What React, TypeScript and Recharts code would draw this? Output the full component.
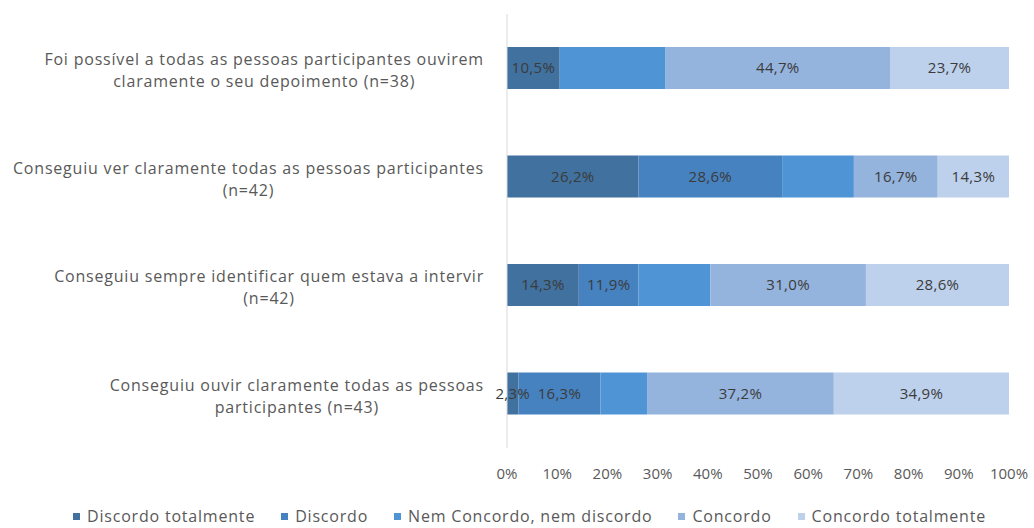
import React, { useLayoutEffect, useRef, useState } from 'react';
import { BarChart, Bar, XAxis, YAxis, Legend, LabelList } from 'recharts';

// categories, top to bottom
const categories = [
  'Foi possível a todas as pessoas participantes ouvirem claramente o seu depoimento (n=38)',
  'Conseguiu ver claramente todas as pessoas participantes (n=42)',
  'Conseguiu sempre identificar quem estava a intervir (n=42)',
  'Conseguiu ouvir claramente todas as pessoas participantes (n=43)',
];

// how each category label wraps on the axis
const categoryLines = [
  ['Foi possível a todas as pessoas participantes ouvirem', 'claramente o seu depoimento (n=38)'],
  ['Conseguiu ver claramente todas as pessoas participantes', '(n=42)'],
  ['Conseguiu sempre identificar quem estava a intervir', '(n=42)'],
  ['Conseguiu ouvir claramente todas as pessoas', 'participantes (n=43)'],
];

// percentages per answer
const discordoTotalmente = [10.5, 26.2, 14.3, 2.3];
const discordo = [0, 28.6, 11.9, 16.3];
const nemConcordoNemDiscordo = [21.1, 14.3, 14.3, 9.3];
const concordo = [44.7, 16.7, 31.0, 37.2];
const concordoTotalmente = [23.7, 14.3, 28.6, 34.9];

const xTicks = [0, 10, 20, 30, 40, 50, 60, 70, 80, 90, 100];

const series = [
  { key: 'dt', name: 'Discordo totalmente', values: discordoTotalmente, color: '#41719f', labelled: true },
  { key: 'd', name: 'Discordo', values: discordo, color: '#4682bf', labelled: true },
  { key: 'n', name: 'Nem Concordo, nem discordo', values: nemConcordoNemDiscordo, color: '#4f95d5', labelled: false },
  { key: 'c', name: 'Concordo', values: concordo, color: '#94b3dd', labelled: true },
  { key: 'ct', name: 'Concordo totalmente', values: concordoTotalmente, color: '#bdd0ec', labelled: true },
];

const data = categories.map((category, i) => {
  const row: Record<string, string | number> = { category };
  series.forEach((s) => {
    row[s.key] = s.values[i];
  });
  return row;
});

const textGray = '#595959';

const pct = (v: any) => {
  const n = Number(v);
  if (!n) return '';
  return n.toFixed(1).replace('.', ',') + '%';
};

function CategoryTick({ x, y, payload }: any) {
  const idx = categories.indexOf(payload.value);
  const lines = idx >= 0 ? categoryLines[idx] : [String(payload.value)];
  const refs = useRef<(SVGTextElement | null)[]>([]);
  const [width, setWidth] = useState(0);

  useLayoutEffect(() => {
    const w = Math.max(...refs.current.map((t) => (t ? t.getComputedTextLength() : 0)));
    if (Math.abs(w - width) > 0.5) setWidth(w);
  });

  const right = x - 15;
  const cx = right - width / 2;
  return (
    <g>
      {lines.map((line, i) => (
        <text
          key={i}
          ref={(el) => {
            refs.current[i] = el;
          }}
          x={cx}
          y={y - 9 + i * 22}
          textAnchor="middle"
          dominantBaseline="central"
          fill={textGray}
          fontSize={16}
          letterSpacing={0.8}
        >
          {line}
        </text>
      ))}
    </g>
  );
}

const renderLegend = () => (
  <div
    style={{
      display: 'flex',
      justifyContent: 'center',
      alignItems: 'center',
      height: 24,
      gap: 26,
      paddingLeft: 50,
      fontSize: 16,
      letterSpacing: 0.8,
      color: textGray,
    }}
  >
    {series.map((s) => (
      <span key={s.key} style={{ display: 'flex', alignItems: 'center' }}>
        <span style={{ width: 7, height: 7, background: s.color, marginRight: 7 }} />
        {s.name}
      </span>
    ))}
  </div>
);

export default function App() {
  return (
    <div
      style={{
        position: 'absolute',
        left: 0,
        top: 0,
        width: 1034,
        height: 528,
        background: '#fff',
        fontFamily: '"Open Sans", sans-serif',
      }}
    >
      <BarChart
        width={1034}
        height={528}
        data={data}
        layout="vertical"
        margin={{ top: 14, right: 25, bottom: 0, left: 0 }}
        barSize={42}
      >
        <XAxis
          type="number"
          domain={[0, 100]}
          ticks={xTicks}
          allowDataOverflow
          tickFormatter={(v) => `${v}%`}
          axisLine={false}
          tickLine={false}
          tickMargin={14}
          height={56}
          tick={{ fill: textGray, fontSize: 15 }}
        />
        <YAxis
          type="category"
          dataKey="category"
          width={507}
          tickLine={false}
          axisLine={{ stroke: '#d9d9d9' }}
          tick={(p: any) => <CategoryTick {...p} />}
          interval={0}
        />
        <Legend verticalAlign="bottom" content={renderLegend} />
        {series.map((s) => (
          <Bar key={s.key} dataKey={s.key} name={s.name} stackId="a" fill={s.color} isAnimationActive={false}>
            {s.labelled && (
              <LabelList
                dataKey={s.key}
                position="center"
                formatter={pct}
                fill="#3b3b3b"
                fontSize={15}
                letterSpacing={0.3}
              />
            )}
          </Bar>
        ))}
      </BarChart>
    </div>
  );
}
